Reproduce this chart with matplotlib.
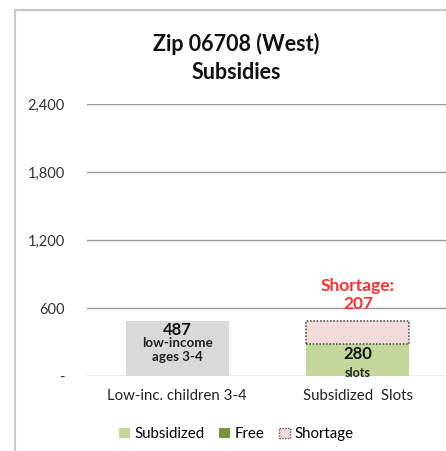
import matplotlib.pyplot as plt
from matplotlib.patches import Patch, Rectangle

plt.rcParams['font.family'] = ['Lato', 'DejaVu Sans']

categories = ['Low-inc. children 3-4', 'Subsidized  Slots']
children = [487, 0]
subsidized = [0, 280]
shortage = [0, 207]
yticks = [0, 600, 1200, 1800, 2400]
ytick_labels = ['-', '600', '1,200', '1,800', '2,400']

fig = plt.figure(figsize=(4.46, 4.51), dpi=100)
ax = fig.add_axes([0.195, 0.166, 0.81, 0.603])

# outer chart border (top and left only visible)
fig.add_artist(Rectangle((15 / 446, -0.1), 1.2, 1 - 10 / 451 + 0.1, transform=fig.transFigure,
                         fill=False, edgecolor='#c8c8c8', linewidth=1.6))

x = list(range(len(categories)))
w = 0.57
ax.bar(x[0], children[0], width=w, color='#d9d9d9', zorder=2)
ax.bar(x[1], subsidized[1], width=w, color='#c4d79b', zorder=2)
ax.bar(x[1], shortage[1], bottom=subsidized[1], width=w, color='#f2dcdb',
       edgecolor='#555555', linestyle=(0, (1, 1)), linewidth=1.2, zorder=2)

ax.set_xlim(-0.5, 1.5)
ax.set_ylim(0, 2400)
ax.set_yticks(yticks)
ax.set_yticklabels(ytick_labels, fontsize=10.5, color='#333333')
ax.tick_params(axis='y', length=0, pad=16)
ax.tick_params(axis='x', length=0, pad=9, labelsize=10.8, labelcolor='#222222')
ax.set_xticks(x)
ax.set_xticklabels(categories)
ax.yaxis.grid(True, color='#999999', linewidth=1.0, zorder=0)
for s in ax.spines.values():
    s.set_visible(False)

# value labels
ax.text(x[0], children[0] - 12, str(children[0]), ha='center', va='top',
        fontsize=12, fontweight='bold', color='#111111', zorder=3)
ax.text(x[0], children[0] - 140, 'low-income\nages 3-4', ha='center', va='top',
        fontsize=9.6, fontweight='bold', color='#222222', linespacing=1.2, zorder=3)
ax.text(x[1], subsidized[1] - 12, str(subsidized[1]), ha='center', va='top',
        fontsize=12, fontweight='bold', color='#111111', zorder=3)
ax.text(x[1], 25, 'slots', ha='center', va='center',
        fontsize=9, fontweight='bold', color='#222222', zorder=3)
ax.text(x[1], subsidized[1] + shortage[1] + 80, 'Shortage:\n%d' % shortage[1],
        ha='center', va='bottom', fontsize=12.5, fontweight='bold', color='#ff3333',
        linespacing=1.15, zorder=3)

fig.text(0.53, 0.871, 'Zip 06708 (West)\nSubsidies', ha='center', va='center',
         fontsize=15.5, fontweight='bold', color='#111111', linespacing=1.4)

handles = [Patch(facecolor='#c4d79b', edgecolor='none', label='Subsidized'),
           Patch(facecolor='#77933c', edgecolor='none', label='Free'),
           Patch(facecolor='#f2dcdb', edgecolor='#555555', linestyle=(0, (1, 1)), label='Shortage')]
fig.legend(handles=handles, loc='center', bbox_to_anchor=(0.53, 0.037), ncol=3, frameon=False,
           fontsize=10.8, handlelength=0.7, handleheight=0.7, handletextpad=0.3, columnspacing=1.0)

fig.savefig('out.png', dpi=100)
